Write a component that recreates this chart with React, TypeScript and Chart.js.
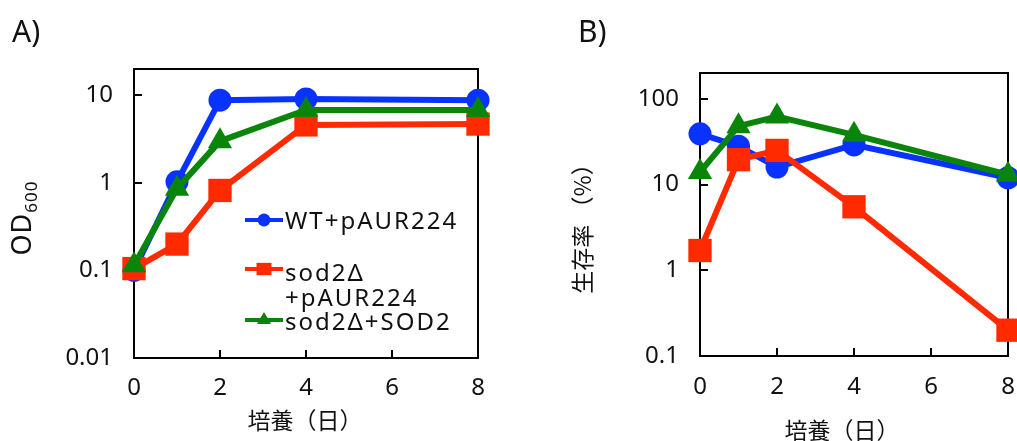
import React, { useEffect, useRef } from "react";
import { Chart, registerables } from "chart.js";

Chart.register(...registerables);

// ---------- data ----------
const days = [0, 1, 2, 4, 8];
const dayTicks = [0, 2, 4, 6, 8];
const seriesNames = ["WT+pAUR224", "sod2Δ+pAUR224", "sod2Δ+SOD2"];
const legendLines = [["WT+pAUR224"], ["sod2Δ", "+pAUR224"], ["sod2Δ+SOD2"]];

const odWT = [0.1, 1.03, 8.8, 9.1, 8.8];
const odSod2 = [0.105, 0.2, 0.82, 4.6, 4.7];
const odSOD2 = [0.115, 0.86, 3.0, 6.8, 6.8];
const odTicks = [0.01, 0.1, 1, 10];

const survWT = [39, 28, 16, 29, 12];
const survSod2 = [1.7, 19.5, 25, 5.5, 0.2];
const survSOD2 = [14, 48, 62, 38, 13];
const survTicks = [0.1, 1, 10, 100];

const colors = ["#0a32ff", "#ff2a00", "#0a850a"];
const pointStyles = ["circle", "rect", "triangle"];
const pointRadii = [11.5, 16.5, 14];

const LATIN = "'Noto Sans', 'DejaVu Sans', sans-serif";
const CJK = "'Noto Sans CJK JP', 'Noto Sans', sans-serif";

type PanelCfg = {
  left: number;
  width: number;
  height: number;
  area: { left: number; right: number; top: number; bottom: number };
  yMin: number;
  yMax: number;
  yTicks: number[];
  values: number[][];
  label: string;
  labelX: number;
  xTitleX: number;
  xTitleY: number;
  yTitle: "od" | "surv";
  yTitleX: number;
  yTitleY: number;
  xPad: number;
  showLegend: boolean;
};

function drawMarker(ctx: CanvasRenderingContext2D, style: string, x: number, y: number, s: number) {
  ctx.beginPath();
  if (style === "circle") {
    ctx.arc(x, y, s, 0, Math.PI * 2);
  } else if (style === "rect") {
    ctx.rect(x - s * 1.15, y - s * 0.95, s * 2.3, s * 1.9);
  } else {
    const r = s * 1.25;
    ctx.moveTo(x, y - r);
    ctx.lineTo(x + r * 0.866, y + r * 0.5);
    ctx.lineTo(x - r * 0.866, y + r * 0.5);
    ctx.closePath();
  }
  ctx.fill();
}

function makePlugin(cfg: PanelCfg) {
  return {
    id: "decor",
    beforeDatasetsDraw(chart: any) {
      const ctx = chart.ctx as CanvasRenderingContext2D;
      const a = chart.chartArea;
      const xs = chart.scales.x;
      const ys = chart.scales.y;
      ctx.save();
      ctx.strokeStyle = "#000";
      ctx.lineWidth = 2;
      ctx.strokeRect(a.left, a.top, a.right - a.left, a.bottom - a.top);
      ctx.beginPath();
      for (const v of cfg.yTicks) {
        const y = Math.round(ys.getPixelForValue(v));
        ctx.moveTo(a.left, y);
        ctx.lineTo(a.left + 8, y);
      }
      for (const v of dayTicks) {
        const x = Math.round(xs.getPixelForValue(v));
        ctx.moveTo(x, a.bottom);
        ctx.lineTo(x, a.bottom - 8);
      }
      ctx.stroke();
      ctx.restore();
    },
    afterDraw(chart: any) {
      const ctx = chart.ctx as CanvasRenderingContext2D;
      ctx.save();
      ctx.fillStyle = "#111";
      // panel label
      ctx.font = `30px ${LATIN}`;
      ctx.textAlign = "left";
      ctx.textBaseline = "middle";
      ctx.fillText(cfg.label, cfg.labelX, 33);
      // x title
      ctx.font = `23px ${CJK}`;
      ctx.textAlign = "center";
      ctx.fillText("培養（日）", cfg.xTitleX, cfg.xTitleY);
      // y title
      ctx.save();
      ctx.translate(cfg.yTitleX, cfg.yTitleY);
      ctx.rotate(-Math.PI / 2);
      if (cfg.yTitle === "od") {
        (ctx as any).letterSpacing = "1px";
        ctx.font = `27px ${LATIN}`;
        const w1 = ctx.measureText("OD").width;
        ctx.font = `17px ${LATIN}`;
        const w2 = ctx.measureText("600").width;
        const start = -(w1 + w2) / 2;
        ctx.textAlign = "left";
        ctx.font = `27px ${LATIN}`;
        ctx.fillText("OD", start, 0);
        ctx.font = `17px ${LATIN}`;
        ctx.fillText("600", start + w1, 9);
      } else {
        ctx.font = `23px ${CJK}`;
        ctx.textAlign = "center";
        ctx.fillText("生存率 （%）", 0, 0);
      }
      ctx.restore();
      // legend
      if (cfg.showLegend) {
        const rows = [
          { lineY: 220, textY: [222] },
          { lineY: 269, textY: [274, 299] },
          { lineY: 320, textY: [323] },
        ];
        rows.forEach((r, i) => {
          ctx.strokeStyle = colors[i];
          ctx.fillStyle = colors[i];
          ctx.lineWidth = 4;
          ctx.beginPath();
          ctx.moveTo(245, r.lineY);
          ctx.lineTo(283, r.lineY);
          ctx.stroke();
          drawMarker(ctx, pointStyles[i], 264, r.lineY, 6.5);
          ctx.fillStyle = "#111";
          ctx.font = `24px ${LATIN}`;
          (ctx as any).letterSpacing = "2px";
          ctx.textAlign = "left";
          ctx.textBaseline = "middle";
          legendLines[i].forEach((t, j) => ctx.fillText(t, 285, r.textY[j]));
        });
      }
      ctx.restore();
    },
  };
}

function Panel({ cfg }: { cfg: PanelCfg }) {
  const ref = useRef<HTMLCanvasElement | null>(null);
  useEffect(() => {
    if (!ref.current) return;
    const a = cfg.area;
    const orders = [3, 2, 1];
    const chart = new Chart(ref.current, {
      type: "line",
      data: {
        datasets: cfg.values.map((vals, i) => ({
          label: seriesNames[i],
          data: days.map((d, k) => ({ x: d, y: vals[k] })),
          borderColor: colors[i],
          backgroundColor: colors[i],
          borderWidth: 6,
          pointStyle: pointStyles[i] as any,
          pointRadius: pointRadii[i],
          pointBorderWidth: 0,
          pointBackgroundColor: colors[i],
          clip: false as any,
          order: orders[i],
          tension: 0,
        })),
      },
      options: {
        animation: false,
        responsive: false,
        devicePixelRatio: 1,
        events: [],
        layout: {
          autoPadding: false,
          padding: { left: 0, bottom: 0, top: a.top, right: cfg.width - a.right },
        },
        plugins: {
          legend: { display: false },
          tooltip: { enabled: false },
        },
        scales: {
          x: {
            type: "linear",
            min: 0,
            max: 8,
            grid: { display: false, drawTicks: false },
            border: { display: false },
            afterBuildTicks: (s: any) => {
              s.ticks = dayTicks.map((v) => ({ value: v }));
            },
            afterFit: (s: any) => {
              s.height = cfg.height - a.bottom;
              s.paddingLeft = 0;
              s.paddingRight = 0;
              s.paddingTop = 0;
              s.paddingBottom = 0;
            },
            ticks: {
              color: "#111",
              font: { family: LATIN, size: 24 },
              padding: cfg.xPad,
              maxRotation: 0,
              minRotation: 0,
              autoSkip: false,
              callback: (v: any) => String(v),
            },
          },
          y: {
            type: "logarithmic",
            min: cfg.yMin,
            max: cfg.yMax,
            grid: { display: false, drawTicks: false },
            border: { display: false },
            afterBuildTicks: (s: any) => {
              s.ticks = cfg.yTicks.map((v) => ({ value: v }));
            },
            afterFit: (s: any) => {
              s.width = a.left;
              s.paddingLeft = 0;
              s.paddingRight = 0;
              s.paddingTop = 0;
              s.paddingBottom = 0;
            },
            ticks: {
              color: "#111",
              font: { family: LATIN, size: 24 },
              padding: 21,
              autoSkip: false,
              callback: (v: any) => String(v),
            },
          },
        },
      },
      plugins: [makePlugin(cfg)],
    } as any);
    return () => chart.destroy();
  }, [cfg]);
  return (
    <canvas
      ref={ref}
      width={cfg.width}
      height={cfg.height}
      style={{ position: "absolute", left: cfg.left, top: 0, width: cfg.width, height: cfg.height }}
    />
  );
}

const panelA: PanelCfg = {
  left: 0,
  width: 510,
  height: 441,
  area: { left: 134, right: 478, top: 69, bottom: 358 },
  yMin: 0.01,
  yMax: 20,
  yTicks: odTicks,
  values: [odWT, odSod2, odSOD2],
  label: "A)",
  labelX: 12,
  xTitleX: 305,
  xTitleY: 420,
  yTitle: "od",
  yTitleX: 23,
  yTitleY: 218,
  xPad: 16,
  showLegend: true,
};

const panelB: PanelCfg = {
  left: 510,
  width: 507,
  height: 441,
  area: { left: 190, right: 498, top: 73, bottom: 356 },
  yMin: 0.1,
  yMax: 200,
  yTicks: survTicks,
  values: [survWT, survSod2, survSOD2],
  label: "B)",
  labelX: 68,
  xTitleX: 332,
  xTitleY: 430,
  yTitle: "surv",
  yTitleX: 72,
  yTitleY: 223,
  xPad: 17,
  showLegend: false,
};

export default function App() {
  return (
    <div
      style={{
        position: "fixed",
        left: 0,
        top: 0,
        width: 1017,
        height: 441,
        background: "#fff",
        overflow: "hidden",
      }}
    >
      <Panel cfg={panelA} />
      <Panel cfg={panelB} />
    </div>
  );
}
